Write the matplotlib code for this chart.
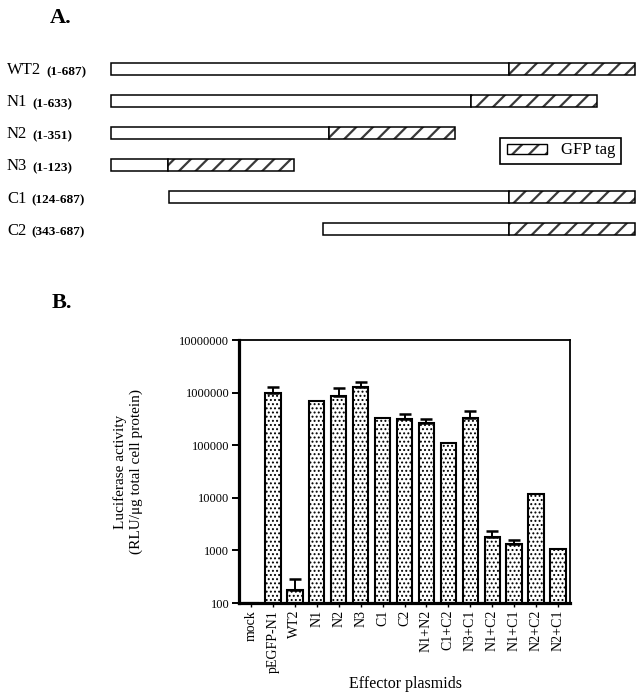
import numpy as np
import matplotlib
matplotlib.use('Agg')
import matplotlib.pyplot as plt
from matplotlib.patches import Rectangle

plt.rcParams['font.family'] = ['Liberation Serif', 'DejaVu Serif']

# ---------------- Panel A data ----------------
constructs = ['WT2', 'N1', 'N2', 'N3', 'C1', 'C2']
aa_start = [1, 1, 1, 1, 124, 343]
aa_end = [687, 633, 351, 123, 687, 687]
gfp_label = 'GFP tag'

# ---------------- Panel B data ----------------
plasmids = ['mock', 'pEGFP-N1', 'WT2', 'N1', 'N2', 'N3', 'C1', 'C2',
            'N1+N2', 'C1+C2', 'N3+C1', 'N1+C2', 'N1+C1', 'N2+C2', 'N2+C1']
activity = [100, 1.0e6, 173, 7.0e5, 8.5e5, 1.28e6, 3.36e5, 3.17e5,
            2.7e5, 1.11e5, 3.22e5, 1800, 1325, 1.16e4, 1060]
err_up = [0, 2.6e5, 108, 0, 3.6e5, 3.0e5, 0, 8.3e4,
          4.7e4, 0, 1.23e5, 580, 250, 0, 0]
ytick_vals = [100, 1000, 10000, 100000, 1000000, 10000000]
ytick_labels = ['100', '1000', '10000', '100000', '1000000', '10000000']

W, H = 644, 700
fig = plt.figure(figsize=(W / 100, H / 100), dpi=100)

# ---------------- Panel A ----------------
axA = fig.add_axes([0, 1 - 250 / H, 1, 250 / H])
axA.set_xlim(0, W)
axA.set_ylim(250, 0)
axA.axis('off')

# schematic scale: amino-acid position -> drawing position
aa_bp = [1, 123.5, 343, 351, 633, 687]
px_bp = [111.5, 168.5, 323, 329, 471, 509]
def aa2x(a):
    return np.interp(a, aa_bp, px_bp)

gfp_w = 126
row0, drow, bh = 69, 32, 12
for i, name in enumerate(constructs):
    y = row0 + drow * i
    x0 = aa2x(aa_start[i]) if aa_start[i] > 1 else px_bp[0]
    x1 = aa2x(aa_end[i])
    axA.barh(y, x1 - x0, left=x0, height=bh, color='white',
             edgecolor='black', linewidth=1.1)
    plt.rcParams['hatch.linewidth'] = 1.6
    hb = axA.barh(y, gfp_w, left=x1, height=bh, color='white',
                  edgecolor='#3a3a3a', linewidth=0, hatch='//')
    axA.barh(y, gfp_w, left=x1, height=bh, fill=False,
             edgecolor='black', linewidth=1.1)
    t = axA.text(7, y + 5.5, name, fontsize=12, va='baseline', ha='left')
    axA.annotate('(%d-%d)' % (aa_start[i], aa_end[i]), xy=(1, 0),
                 xycoords=t, xytext=(3.5, 0), textcoords='offset points',
                 fontsize=9.5, fontweight='bold', va='bottom', ha='left')

# legend box
axA.add_patch(Rectangle((500, 138), 121, 26, fill=False, edgecolor='black',
                        linewidth=1.2))
axA.add_patch(Rectangle((507, 144), 40, 10, facecolor='white',
                        edgecolor='#3a3a3a', linewidth=0, hatch='//'))
axA.add_patch(Rectangle((507, 144), 40, 10, fill=False, edgecolor='black',
                        linewidth=1.0))
axA.text(561, 150, gfp_label, fontsize=12, va='center', ha='left')
axA.text(61, 18, 'A.', fontsize=16, fontweight='bold', ha='center',
         va='center')

# ---------------- Panel B ----------------
fig.text(62 / W, 1 - 303 / H, 'B.', fontsize=16, fontweight='bold',
         ha='center', va='center')

left, right, top, bottom = 239, 570, 340, 603
axB = fig.add_axes([left / W, 1 - bottom / H, (right - left) / W,
                    (bottom - top) / H])
axB.set_yscale('log')
x = np.arange(len(plasmids))
vals = np.array(activity, dtype=float)
errs = np.array(err_up, dtype=float)

plt.rcParams['hatch.linewidth'] = 0.9
bars = axB.bar(x, vals - 100, bottom=100, width=0.7, color='white',
               edgecolor='black', linewidth=1.5, hatch='....', zorder=2)
m = errs > 0
axB.errorbar(x[m], vals[m], yerr=[np.zeros(m.sum()), errs[m]], fmt='none',
             ecolor='black', elinewidth=1.4, capsize=4, capthick=1.8,
             zorder=3)

axB.set_xlim(-0.55, len(plasmids) - 0.45)
axB.set_ylim(100, 1e7)
axB.set_yticks(ytick_vals)
axB.set_yticklabels(ytick_labels, fontsize=9)
axB.minorticks_off()
axB.set_xticks(x)
axB.set_xticklabels(plasmids, rotation=90, fontsize=10)
axB.tick_params(axis='y', direction='out', length=5, width=1.4, pad=2)
axB.tick_params(axis='x', direction='out', length=3, width=1.0, pad=2)
for s in ['left', 'bottom']:
    axB.spines[s].set_linewidth(2.3)
for s in ['top', 'right']:
    axB.spines[s].set_linewidth(1.3)

fig.text(128.5 / W, 1 - 472 / H,
         'Luciferase activity\n(RLU/\u03bcg total cell protein)',
         rotation=90, ha='center', va='center', multialignment='center',
         fontsize=11, linespacing=1.25)
fig.text(405 / W, 1 - 684 / H, 'Effector plasmids', ha='center',
         va='center', fontsize=11.5)

fig.savefig('out.png', dpi=100)
